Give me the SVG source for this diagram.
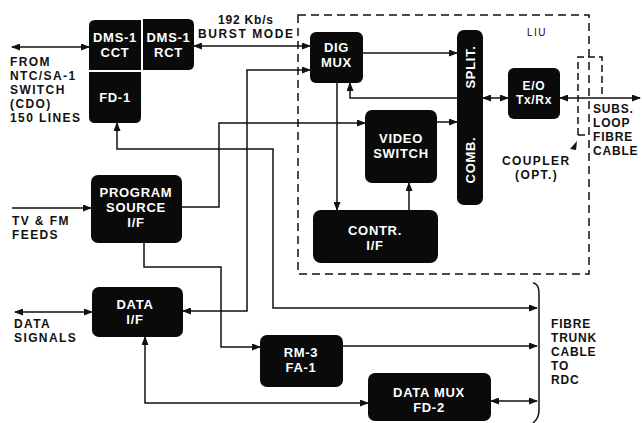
<svg xmlns="http://www.w3.org/2000/svg" width="642" height="423" viewBox="0 0 642 423">
<style>
.box{fill:#0a0a0a}
.bt{fill:#fff;font-family:"Liberation Sans",Arial,sans-serif;font-weight:bold;font-size:13px;text-anchor:middle;letter-spacing:0.7px}
.lb{fill:#111;font-family:"Liberation Sans",Arial,sans-serif;font-weight:bold;font-size:12px;letter-spacing:1.4px}
.ln{fill:none;stroke:#111;stroke-width:1.5}
.dash{fill:none;stroke:#111;stroke-width:1.5;stroke-dasharray:8 5}
</style>
<defs>
<marker id="ah" markerUnits="userSpaceOnUse" markerWidth="9" markerHeight="7" refX="8" refY="3.5" orient="auto-start-reverse">
<path d="M0,0 L9,3.5 L0,7 z" fill="#111"/>
</marker>
</defs>
<rect width="642" height="423" fill="#fff"/>

<g id="liu-frame">
<rect class="dash" x="298" y="15" width="291" height="259"/>
<text x="527" y="36" style="font-family:'Liberation Sans',Arial,sans-serif;font-size:10px;letter-spacing:1.5px;fill:#111">LIU</text>
</g>

<g id="connectors">
<path class="ln" d="M12,47 H89" marker-start="url(#ah)" marker-end="url(#ah)"/>
<path class="ln" d="M12,208 H91" marker-end="url(#ah)"/>
<path class="ln" d="M15,312 H92" marker-start="url(#ah)" marker-end="url(#ah)"/>
<path class="ln" d="M194,46 H310" marker-start="url(#ah)" marker-end="url(#ah)"/>
<path class="ln" d="M183,311 H247 V70 H310" marker-start="url(#ah)" marker-end="url(#ah)"/>
<path class="ln" d="M182,207 H219 V123 H365" marker-end="url(#ah)"/>
<path class="ln" d="M117,123 V149 H273 V308 H537" marker-start="url(#ah)" marker-end="url(#ah)"/>
<path class="ln" d="M144,243 V267 H221 V347 H260" marker-end="url(#ah)"/>
<path class="ln" d="M343,346 H537" marker-end="url(#ah)"/>
<path class="ln" d="M145,337 V403 H368" marker-start="url(#ah)" marker-end="url(#ah)"/>
<path class="ln" d="M491,401 H537" marker-start="url(#ah)" marker-end="url(#ah)"/>
<path class="ln" d="M363,53 H457" marker-end="url(#ah)"/>
<path class="ln" d="M457,98 H350 V83" marker-end="url(#ah)"/>
<path class="ln" d="M337,83 V210" marker-end="url(#ah)"/>
<path class="ln" d="M409,210 V183" marker-end="url(#ah)"/>
<path class="ln" d="M437,122 H457" marker-end="url(#ah)"/>
<path class="ln" d="M483,98 H508" marker-start="url(#ah)" marker-end="url(#ah)"/>
<path class="ln" d="M560,98 H640" marker-start="url(#ah)" marker-end="url(#ah)"/>
<path class="ln" d="M533,283 C539,284 539,290 539,296 V410 C539,416 537,420 533,423"/>
</g>

<g id="coupler">
<path class="dash" d="M578,135 V57 H602 V98" style="stroke-dasharray:7 4"/>
<path class="ln" d="M578,135 H585"/>
<polygon points="570,149 577,141 576,150" fill="#111"/>
<text class="lb" x="502" y="165">COUPLER</text>
<text class="lb" x="515" y="179">(OPT.)</text>
</g>

<g id="dms1-cct">
<path class="box" d="M89,26 Q89,20 95,20 H141 V70 H89 Z"/>
<text class="bt" x="115" y="42">DMS-1</text>
<text class="bt" x="115" y="57">CCT</text>
</g>
<g id="dms1-rct">
<path class="box" d="M143,19 H188 Q194,19 194,25 V64 Q194,70 188,70 H143 Z"/>
<text class="bt" x="168.5" y="42">DMS-1</text>
<text class="bt" x="168.5" y="57">RCT</text>
</g>
<g id="fd1">
<path class="box" d="M89,72 H141 V117 Q141,123 135,123 H95 Q89,123 89,117 Z"/>
<text class="bt" x="115" y="102">FD-1</text>
</g>

<g id="program-source">
<rect class="box" x="91" y="175" width="91" height="68" rx="7"/>
<text class="bt" x="136" y="197">PROGRAM</text>
<text class="bt" x="136" y="212">SOURCE</text>
<text class="bt" x="136" y="227">I/F</text>
</g>

<g id="data-if">
<rect class="box" x="92" y="287" width="91" height="50" rx="7"/>
<text class="bt" x="135" y="309">DATA</text>
<text class="bt" x="135" y="324">I/F</text>
</g>

<g id="dig-mux">
<rect class="box" x="310" y="32" width="53" height="51" rx="6"/>
<text class="bt" x="336.5" y="52">DIG</text>
<text class="bt" x="336.5" y="67">MUX</text>
</g>

<g id="video-switch">
<rect class="box" x="365" y="110" width="72" height="73" rx="7"/>
<text class="bt" x="401" y="143">VIDEO</text>
<text class="bt" x="401" y="158">SWITCH</text>
</g>

<g id="contr-if">
<rect class="box" x="313" y="210" width="125" height="53" rx="8"/>
<text class="bt" x="375" y="235">CONTR.</text>
<text class="bt" x="375" y="250">I/F</text>
</g>

<g id="split-comb">
<rect class="box" x="457" y="30" width="26" height="175" rx="7"/>
<text class="bt" transform="translate(475,67) rotate(-90)">SPLIT.</text>
<text class="bt" transform="translate(475,160) rotate(-90)">COMB.</text>
</g>

<g id="eo-txrx">
<rect class="box" x="508" y="68" width="52" height="51" rx="6"/>
<text class="bt" x="534" y="90" style="font-size:12px">E/O</text>
<text class="bt" x="534" y="104" style="font-size:12px">Tx/Rx</text>
</g>

<g id="rm3-fa1">
<rect class="box" x="260" y="335" width="83" height="52" rx="7"/>
<text class="bt" x="301" y="357">RM-3</text>
<text class="bt" x="301" y="372">FA-1</text>
</g>

<g id="data-mux-fd2">
<rect class="box" x="368" y="373" width="123" height="48" rx="7"/>
<text class="bt" x="429" y="397">DATA MUX</text>
<text class="bt" x="429" y="412">FD-2</text>
</g>

<g id="labels">
<text class="lb" x="218" y="24" style="letter-spacing:0.8px">192 Kb/s</text>
<text class="lb" x="198" y="38" style="letter-spacing:1.6px">BURST MODE</text>
<text class="lb" x="10" y="66">FROM</text>
<text class="lb" x="10" y="80">NTC/SA-1</text>
<text class="lb" x="10" y="94">SWITCH</text>
<text class="lb" x="10" y="108">(CDO)</text>
<text class="lb" x="10" y="122">150 LINES</text>
<text class="lb" x="12" y="225">TV &amp; FM</text>
<text class="lb" x="12" y="239">FEEDS</text>
<text class="lb" x="14" y="328">DATA</text>
<text class="lb" x="14" y="342">SIGNALS</text>
<text class="lb" x="593" y="113" style="letter-spacing:0.8px">SUBS.</text>
<text class="lb" x="593" y="127" style="letter-spacing:0.8px">LOOP</text>
<text class="lb" x="593" y="141" style="letter-spacing:0.8px">FIBRE</text>
<text class="lb" x="593" y="155" style="letter-spacing:0.8px">CABLE</text>
<text class="lb" x="551" y="328" style="letter-spacing:0.8px">FIBRE</text>
<text class="lb" x="551" y="342" style="letter-spacing:0.8px">TRUNK</text>
<text class="lb" x="551" y="356" style="letter-spacing:0.8px">CABLE</text>
<text class="lb" x="551" y="370" style="letter-spacing:0.8px">TO</text>
<text class="lb" x="551" y="384" style="letter-spacing:0.8px">RDC</text>
</g>
</svg>
